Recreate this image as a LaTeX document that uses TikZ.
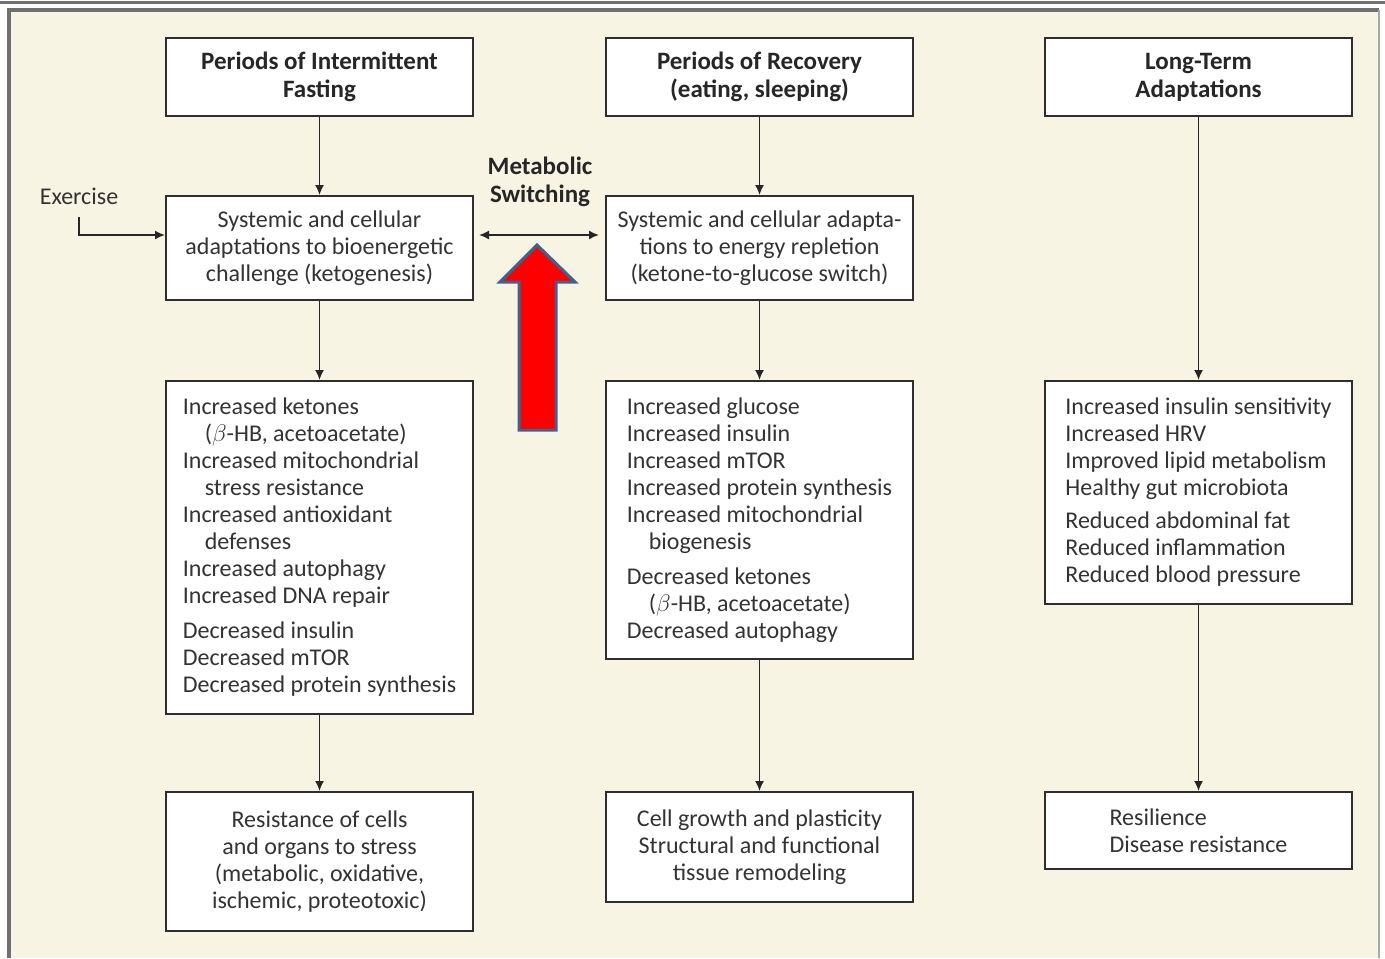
\documentclass[tikz,border=0pt]{standalone}
\usepackage{fontspec}
\setmainfont{Carlito}
\usetikzlibrary{arrows.meta,positioning}
\definecolor{paper}{HTML}{F7F4E3}
\definecolor{ink}{HTML}{333333}
\definecolor{rim}{HTML}{707070}
\definecolor{arrowrim}{HTML}{41618E}
\tikzset{
  box/.style      = {shape=rectangle, draw=ink!90!black, line width=1pt,
                     fill=white, minimum width=153.5pt, inner sep=0pt,
                     align=center, text=ink,
                     font=\fontsize{12}{13.5}\selectfont},
  headbox/.style  = {box, minimum height=39pt, text=black!85,
                     font=\fontsize{12.5}{14}\selectfont\bfseries},
  midbox/.style   = {box, minimum height=52pt},
  listbox/.style  = {box, anchor=north, align=left},
  outbox/.style   = {box, anchor=north},
  link/.style     = {draw=black!85, line width=0.8pt,
                     -{Latex[length=5pt,width=4.5pt]}},
  caption/.style  = {inner sep=0pt, align=center, text=black!85,
                     font=\fontsize{12.5}{14}\selectfont\bfseries}
}
\newcommand{\ind}{\hspace*{11pt}}

\begin{document}
\begin{tikzpicture}[x=0.5pt, y=-0.5pt]
  \useasboundingbox (0,0) rectangle (1385,958);
  \fill[white] (0,0) rectangle (1385,958);
  \fill[paper] (8.5,10) rectangle (1379,958);
  \draw[rim, line width=1.5pt] (0,2) -- (1385,2);
  \draw[rim, line width=2pt] (8.5,958) -- (8.5,10) -- (1379,10);
  \draw[rim!60, line width=1pt] (1379,10) -- (1379,958);

  % headings
  \node [headbox] (fast)     at (319.5,77)  {Periods of Intermittent\\Fasting};
  \node [headbox] (recover)  at (759.5,77)  {Periods of Recovery\\(eating, sleeping)};
  \node [headbox] (longterm) at (1198.5,77) {Long-Term\\Adaptations};

  % adaptations
  \node [midbox] (fastadapt)    at (319.5,248)
    {Systemic and cellular\\adaptations to bioenergetic\\challenge (ketogenesis)};
  \node [midbox] (recoveradapt) at (759.5,248)
    {Systemic and cellular adapta-\\tions to energy repletion\\(ketone-to-glucose switch)};

  % lists
  \node [listbox, minimum height=166.5pt] (fastlist) at (319.5,380)
    {Increased ketones\\
     \ind($\beta$-HB, acetoacetate)\\
     Increased mitochondrial\\
     \ind stress resistance\\
     Increased antioxidant\\
     \ind defenses\\
     Increased autophagy\\
     Increased DNA repair\\[4pt]
     Decreased insulin\\
     Decreased mTOR\\
     Decreased protein synthesis};
  \node [listbox, minimum height=139pt] (recoverlist) at (759.5,380)
    {Increased glucose\\
     Increased insulin\\
     Increased mTOR\\
     Increased protein synthesis\\
     Increased mitochondrial\\
     \ind biogenesis\\[4pt]
     Decreased ketones\\
     \ind($\beta$-HB, acetoacetate)\\
     Decreased autophagy};
  \node [listbox, minimum height=111.5pt] (longlist) at (1198.5,380)
    {Increased insulin sensitivity\\
     Increased HRV\\
     Improved lipid metabolism\\
     Healthy gut microbiota\\[3pt]
     Reduced abdominal fat\\
     Reduced inflammation\\
     Reduced blood pressure};

  % outcomes
  \node [outbox, minimum height=69.5pt] (fastout) at (319.5,791)
    {Resistance of cells\\and organs to stress\\(metabolic, oxidative,\\ischemic, proteotoxic)};
  \node [outbox, minimum height=55pt] (recoverout) at (759.5,791)
    {Cell growth and plasticity\\Structural and functional\\tissue remodeling};
  \node [outbox, minimum height=38.5pt, align=left] (longout) at (1198.5,791)
    {Resilience\\Disease resistance};

  \node [caption] (switching) at (540,182) {Metabolic\\Switching};
  \node [inner sep=0pt, text=ink, font=\fontsize{12}{13.5}\selectfont]
    (exercise) at (79,196) {Exercise};

  \draw [link] (fast) -- (fastadapt);
  \draw [link] (fastadapt) -- (fastlist);
  \draw [link] (fastlist) -- (fastout);
  \draw [link] (recover) -- (recoveradapt);
  \draw [link] (recoveradapt) -- (recoverlist);
  \draw [link] (recoverlist) -- (recoverout);
  \draw [link] (longterm) -- (longlist);
  \draw [link] (longlist) -- (longout);
  \draw [link] ([yshift=-6pt]exercise.south) |- ([yshift=6.5pt]fastadapt.west);
  \draw [link, {Latex[length=5pt,width=4.5pt]}-{Latex[length=5pt,width=4.5pt]}]
    ([shift={(5,-13)}]fastadapt.east) -- ([shift={(-6,-13)}]recoveradapt.west);

  \filldraw [fill=red, draw=arrowrim, line width=1.5pt, miter limit=10]
    (537,245) -- (575,282) -- (556,282) -- (556,430) -- (519,430)
    -- (519,282) -- (500,282) -- cycle;
\end{tikzpicture}
\end{document}
